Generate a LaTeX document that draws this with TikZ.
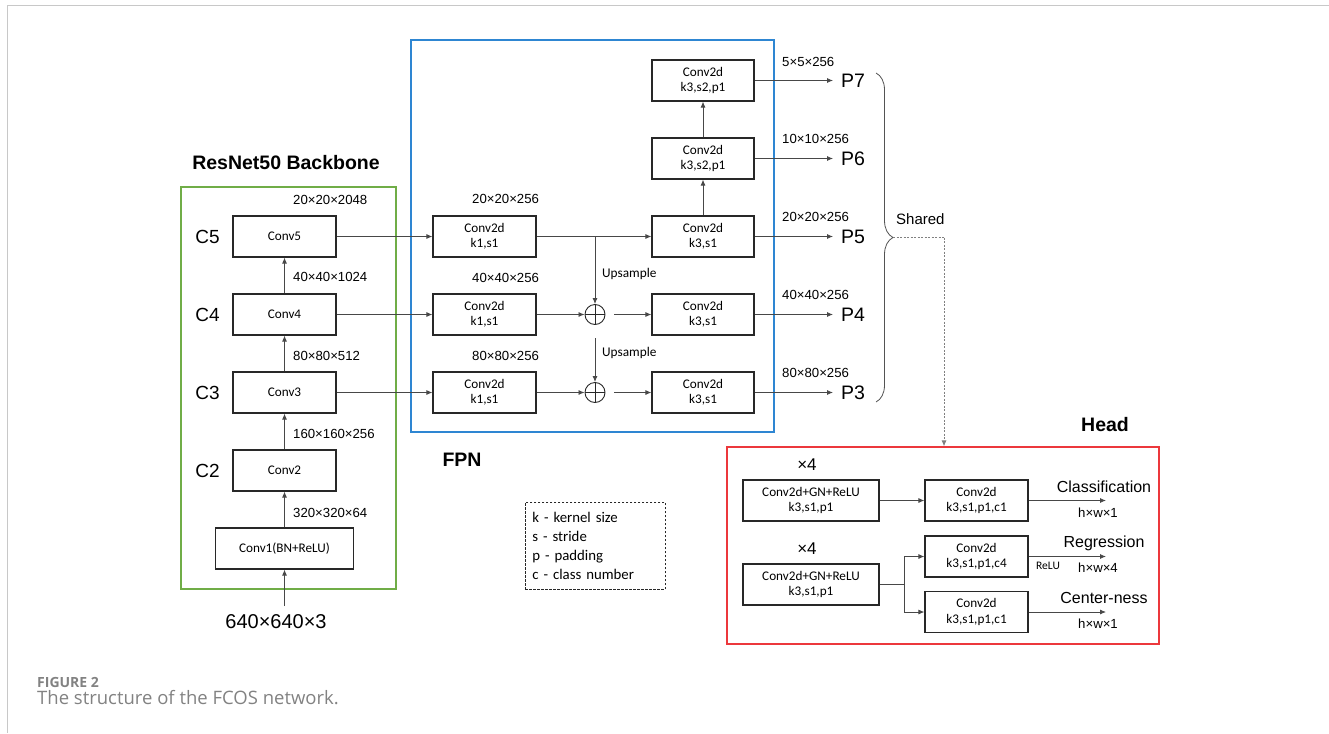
\documentclass[tikz,border=0pt]{standalone}
\usepackage{fontspec}
\setmainfont{Liberation Sans}
\newfontfamily\calfont{Carlito}
\newfontfamily\capfont{Open Sans}
\usetikzlibrary{arrows.meta,decorations.pathreplacing,calc}
\definecolor{bbgreen}{RGB}{112,173,71}
\definecolor{fpnblue}{RGB}{46,134,210}
\definecolor{headred}{RGB}{236,56,60}
\definecolor{capgray}{RGB}{130,130,130}
\definecolor{framegray}{RGB}{200,200,200}
\definecolor{ink}{RGB}{40,40,40}
\tikzset{
  box/.style={draw=ink, line width=1.2pt, minimum height=41pt, inner sep=0pt,
    align=center, font=\calfont\fontsize{13.2}{15.5}\selectfont},
  conn/.style={draw=ink!85, line width=0.8pt, -{Latex[length=6pt,width=5pt]}},
  plain/.style={draw=ink!85, line width=0.8pt},
  dimlab/.style={inner sep=0pt, font=\fontsize{13.2}{15}\selectfont},
  smalldim/.style={inner sep=0pt, font=\fontsize{13.2}{15}\selectfont},
  clab/.style={inner sep=0pt, font=\fontsize{19}{21}\selectfont},
  plab/.style={inner sep=0pt, anchor=west, font=\fontsize{19.5}{22}\selectfont},
  title/.style={inner sep=0pt, font=\bfseries\fontsize{19.5}{22}\selectfont},
  frame/.style={line width=1.2pt, inner sep=0pt},
  oplus/.style={circle, draw=ink, line width=0.9pt, minimum size=20pt, inner sep=0pt,
    path picture={\draw[ink, line width=0.9pt]
      (path picture bounding box.north) -- (path picture bounding box.south)
      (path picture bounding box.west) -- (path picture bounding box.east);}},
  upl/.style={inner sep=0pt, anchor=west, font=\calfont\fontsize{13.3}{15}\selectfont},
  outlab/.style={inner sep=0pt, font=\fontsize{16}{18}\selectfont},
}
\begin{document}
\begin{tikzpicture}[x=1pt,y=-1pt]
\useasboundingbox (0,0) rectangle (1329,733);
% page frame
\draw[framegray, line width=1pt] (1329,6) -- (7.5,6) -- (7.5,733);

% ---------------- Backbone ----------------
\node[frame, draw=bbgreen, minimum width=215pt, minimum height=402pt] (bb) at (288.5,388) {};
\node[title] (bbt) at (286,163) {ResNet50 Backbone};
\node[box, minimum width=103pt] (c5) at (284.5,236.5) {Conv5};
\node[box, minimum width=103pt] (c4) at (284.5,314.5) {Conv4};
\node[box, minimum width=103pt] (c3) at (284.5,392.5) {Conv3};
\node[box, minimum width=103pt] (c2) at (284.5,470.5) {Conv2};
\node[box, minimum width=138pt] (c1) at (284.5,548.5) {Conv1(BN+ReLU)};
\node[clab] (l5) at (207.5,237) {C5};
\node[clab] (l4) at (207.5,315) {C4};
\node[clab] (l3) at (207.5,393) {C3};
\node[clab] (l2) at (207.5,471) {C2};
\node[inner sep=0pt, font=\fontsize{20}{22}\selectfont] (in) at (276,622) {640×640×3};
\coordinate (inp) at (284.5,606);
\draw[conn] (inp) -- (c1.south);
\draw[conn] (c1.north) -- (c2.south);
\draw[conn] (c2.north) -- (c3.south);
\draw[conn] (c3.north) -- (c4.south);
\draw[conn] (c4.north) -- (c5.south);
\node[dimlab, anchor=west] (d5) at (293,200) {20×20×2048};
\node[dimlab, anchor=west] (d4) at (293,277) {40×40×1024};
\node[dimlab, anchor=west] (d3) at (293,356) {80×80×512};
\node[dimlab, anchor=west] (d2) at (293,434) {160×160×256};
\node[dimlab, anchor=west] (d1) at (293,513) {320×320×64};

% ---------------- FPN ----------------
\node[frame, draw=fpnblue, minimum width=363pt, minimum height=392pt] (fpn) at (592.5,236) {};
\node[title] (fpnt) at (462,460) {FPN};
\node[box, minimum width=103pt] (f5) at (484.5,236.5) {Conv2d\\k1,s1};
\node[box, minimum width=103pt] (f4) at (484.5,314.5) {Conv2d\\k1,s1};
\node[box, minimum width=103pt] (f3) at (484.5,392.5) {Conv2d\\k1,s1};
\node[box, minimum width=102pt] (g5) at (703,236.5) {Conv2d\\k3,s1};
\node[box, minimum width=102pt] (g4) at (703,314.5) {Conv2d\\k3,s1};
\node[box, minimum width=102pt] (g3) at (703,392.5) {Conv2d\\k3,s1};
\node[box, minimum width=102pt] (g6) at (703,158.5) {Conv2d\\k3,s2,p1};
\node[box, minimum width=102pt] (g7) at (703,80.5) {Conv2d\\k3,s2,p1};
\node[oplus] (o4) at (595,314.5) {};
\node[oplus] (o3) at (595,392.5) {};
\node[dimlab, anchor=west] (e5) at (472,199) {20×20×256};
\node[dimlab, anchor=west] (e4) at (472,278) {40×40×256};
\node[dimlab, anchor=west] (e3) at (472,356) {80×80×256};
\node[upl] (up4) at (602,274) {Upsample};
\node[upl] (up3) at (602,353) {Upsample};

\draw[conn] (c5.east) -- (f5.west);
\draw[conn] (c4.east) -- (f4.west);
\draw[conn] (c3.east) -- (f3.west);
\draw[conn] (f5.east) -- (g5.west);
\coordinate (j5) at (f5.east -| o4);
\draw[conn] (j5) -- (o4.north);
\coordinate (j4) at (595,338);
\draw[conn] (j4) -- (o3.north);
\draw[conn] (f4.east) -- (o4.west);
\draw[conn] (f3.east) -- (o3.west);
\draw[conn, shorten <=9pt] (o4.east) -- (g4.west);
\draw[conn, shorten <=9pt] (o3.east) -- (g3.west);
\draw[conn] (g5.north) -- (g6.south);
\draw[conn] (g6.north) -- (g7.south);

% ---------------- P outputs ----------------
\node[plab] (p7) at (841,81) {P7};
\node[plab] (p6) at (841,158.5) {P6};
\node[plab] (p5) at (841,236.5) {P5};
\node[plab] (p4) at (841,314.5) {P4};
\node[plab] (p3) at (841,392.5) {P3};
\draw[conn, shorten >=8pt] (g7.east) -- (g7.east -| p7.west);
\draw[conn, shorten >=8pt] (g6.east) -- (g6.east -| p6.west);
\draw[conn, shorten >=8pt] (g5.east) -- (g5.east -| p5.west);
\draw[conn, shorten >=8pt] (g4.east) -- (g4.east -| p4.west);
\draw[conn, shorten >=8pt] (g3.east) -- (g3.east -| p3.west);
\node[smalldim, anchor=west] (q7) at (782,62) {5×5×256};
\node[smalldim, anchor=west] (q6) at (782,139) {10×10×256};
\node[smalldim, anchor=west] (q5) at (782,217) {20×20×256};
\node[smalldim, anchor=west] (q4) at (782,295) {40×40×256};
\node[smalldim, anchor=west] (q3) at (782,373) {80×80×256};

% brace and shared
\draw[ink!80, line width=0.8pt, decorate, decoration={brace, amplitude=17pt, aspect=0.5}]
  (876,73) -- (876,402);
\coordinate (bt) at (893,237.5);
\node[inner sep=0pt, anchor=west, font=\fontsize{15}{17}\selectfont] (sh) at (896,219) {Shared};

% ---------------- Head ----------------
\node[frame, draw=headred, minimum width=432pt, minimum height=197pt] (head) at (943,545.5) {};
\node[title] (headt) at (1105,425) {Head};
\coordinate (sc) at (944,237.5);
\draw[gray, line width=0.8pt, dash pattern=on 2pt off 1.5pt] (bt) -- (sc);
\draw[gray, line width=0.8pt, dash pattern=on 2pt off 1.5pt, -{Latex[length=6pt,width=5pt]}]
  (sc) -- (sc |- head.north);
\node[inner sep=0pt, font=\fontsize{17}{19}\selectfont] (x1) at (807,465) {×4};
\node[inner sep=0pt, font=\fontsize{17}{19}\selectfont] (x2) at (807,549) {×4};
\node[box, minimum width=136pt] (a1) at (811,500.5) {Conv2d+GN+ReLU\\k3,s1,p1};
\node[box, minimum width=136pt] (a2) at (811,584.5) {Conv2d+GN+ReLU\\k3,s1,p1};
\node[box, minimum width=103pt] (b1) at (976.5,500.5) {Conv2d\\k3,s1,p1,c1};
\node[box, minimum width=103pt] (b2) at (976.5,556.5) {Conv2d\\k3,s1,p1,c4};
\node[box, minimum width=103pt] (b3) at (976.5,612) {Conv2d\\k3,s1,p1,c1};
\draw[conn] (a1.east) -- (b1.west);
\coordinate (br) at (904,584.5);
\draw[plain] (a2.east) -- (br);
\draw[conn] (br) |- (b2.west);
\draw[conn] (br) |- (b3.west);
\coordinate (r1) at (1106,500.5);
\coordinate (r2) at (1106,556.5);
\coordinate (r3) at (1106,612);
\draw[conn] (b1.east) -- (r1);
\draw[conn] (b2.east) -- (r2);
\draw[conn] (b3.east) -- (r3);
\node[outlab] (t1) at (1104,487) {Classification};
\node[outlab] (t2) at (1104,543) {Regression};
\node[outlab] (t3) at (1104,598) {Center-ness};
\node[smalldim] (s1) at (1098,513) {h×w×1};
\node[smalldim] (s2) at (1098,568) {h×w×4};
\node[smalldim] (s3) at (1098,624) {h×w×1};
\node[inner sep=0pt, font=\calfont\fontsize{11.5}{13}\selectfont] (relu) at (1048,566) {ReLU};

% ---------------- Legend ----------------
\node[draw=ink, line width=0.8pt, dash pattern=on 2.5pt off 1.5pt, anchor=north west,
  minimum width=138pt, minimum height=87pt, text width=126pt, inner xsep=7pt, inner ysep=0pt,
  align=left, font=\calfont\fontsize{14.8}{18.7}\selectfont] (leg) at (525,502)
  {k - kernel size\\s - stride\\p - padding\\c - class number};

% ---------------- Caption ----------------
\node[anchor=west, inner sep=0pt, text=capgray, font=\capfont\bfseries\fontsize{14}{16}\selectfont] (fig) at (37,682) {FIGURE 2};
\node[anchor=west, inner sep=0pt, text=capgray, font=\capfont\fontsize{18.5}{20}\selectfont] (cap) at (37,698) {The structure of the FCOS network.};
\end{tikzpicture}
\end{document}
